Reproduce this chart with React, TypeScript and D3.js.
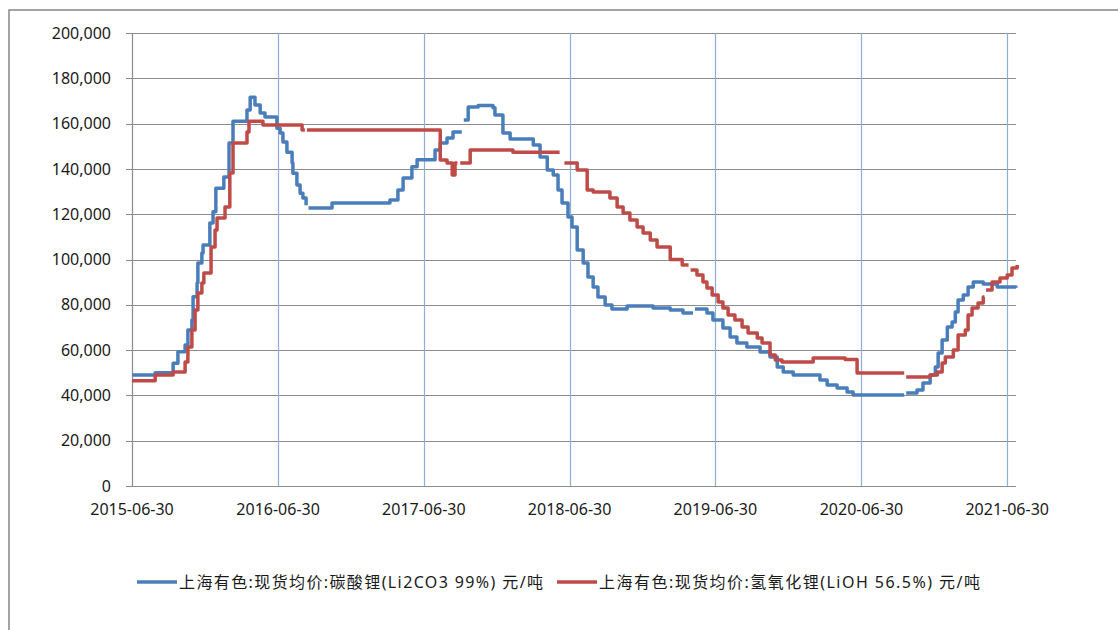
import React from "react";
import * as d3 from "d3";

// 上海有色 现货均价 碳酸锂 / 氢氧化锂, 元/吨
const li2co3Dates = [
  "2015-06-30", "2015-08-27", "2015-10-11", "2015-10-23", "2015-11-10", "2015-11-17", "2015-11-27",
  "2015-11-30", "2015-12-10", "2015-12-12", "2015-12-22", "2015-12-25", "2016-01-11", "2016-01-19",
  "2016-01-26", "2016-02-15", "2016-02-28", "2016-03-09", "2016-04-13", "2016-04-21", "2016-05-03",
  "2016-05-16", "2016-05-28", "2016-06-27", "2016-07-05", "2016-07-12", "2016-07-22", "2016-08-04",
  "2016-08-06", "2016-08-16", "2016-08-24", "2016-08-31", "2016-09-08", "2016-09-11", "2016-09-14",
  "2016-11-12", "2017-04-06", "2017-04-26", "2017-05-09", "2017-05-31", "2017-06-13", "2017-07-28",
  "2017-08-10", "2017-08-27", "2017-09-11", "2017-10-03", "2017-10-05", "2017-10-08", "2017-10-19",
  "2017-11-13", "2017-12-20", "2017-12-25", "2018-01-14", "2018-02-01", "2018-03-31", "2018-04-17",
  "2018-05-05", "2018-05-20", "2018-06-01", "2018-06-11", "2018-06-26", "2018-07-06", "2018-07-19",
  "2018-08-03", "2018-08-15", "2018-08-28", "2018-09-09", "2018-09-27", "2018-10-14", "2018-11-21",
  "2019-01-25", "2019-03-09", "2019-04-10", "2019-05-05", "2019-05-07", "2019-05-10", "2019-06-09",
  "2019-06-24", "2019-07-19", "2019-08-06", "2019-08-23", "2019-09-17", "2019-10-20", "2019-11-14",
  "2019-12-02", "2019-12-17", "2020-01-11", "2020-03-18", "2020-04-05", "2020-04-30", "2020-05-25",
  "2020-06-09", "2020-07-04", "2020-10-15", "2020-10-17", "2020-10-20", "2020-11-16", "2020-12-01",
  "2020-12-19", "2021-01-01", "2021-01-08", "2021-01-18", "2021-01-31", "2021-02-12", "2021-02-20",
  "2021-02-27", "2021-03-12", "2021-03-24", "2021-04-06", "2021-05-01", "2021-06-05", "2021-07-22",
];
const li2co3Values = [
  49000, 50000, 54200, 59300, 62200, 68900, 73300,
  83600, 89600, 98400, 102900, 106400, 116100, 121100,
  131500, 136400, 151400, 161000, 166000, 171600, 168200,
  164700, 162900, 158000, 155800, 151900, 147400, 142600,
  138100, 132900, 129300, 127100, 124000, null, 122700,
  125000, 126300, 130700, 136000, 140900, 144000, 148300,
  151400, 153600, 156300, 156300, null, 161600, 167300,
  168000, 167000, 163800, 155800, 153200, 150600, 145300,
  139500, 137300, 130700, 125000, 118800, 114300, 104200,
  98400, 92300, 87900, 83400, 79900, 78100, 79500,
  78600, 77700, 76400, 76400, null, 78100, 76400,
  73300, 69800, 65800, 63100, 61400, 59200, 57000,
  52500, 50300, 49000, 46800, 44600, 43300, 41500,
  40200, 40200, 40200, null, 41100, 42400, 45500,
  49000, 52500, 58700, 64500, 70200, 72400, 76800,
  82100, 84300, 87900, 90100, 89200, 87900, 87500,
];

const liohDates = [
  "2015-06-30", "2015-08-27", "2015-10-11", "2015-11-10", "2015-11-17", "2015-11-27", "2015-12-05",
  "2015-12-12", "2015-12-22", "2015-12-27", "2016-01-14", "2016-01-24", "2016-01-29", "2016-02-18",
  "2016-03-01", "2016-03-09", "2016-04-13", "2016-04-18", "2016-05-23", "2016-08-29", "2016-09-05",
  "2016-09-07", "2016-09-10", "2017-08-02", "2017-08-10", "2017-08-27", "2017-09-09", "2017-09-16",
  "2017-09-22", "2017-09-25", "2017-09-29", "2017-10-24", "2018-02-08", "2018-06-05", "2018-06-08",
  "2018-06-17", "2018-07-19", "2018-08-13", "2018-08-28", "2018-10-09", "2018-10-27", "2018-11-11",
  "2018-11-28", "2018-12-16", "2018-12-31", "2019-01-18", "2019-02-04", "2019-03-09", "2019-04-08",
  "2019-04-24", "2019-04-26", "2019-04-29", "2019-05-15", "2019-05-30", "2019-06-09", "2019-06-22",
  "2019-07-07", "2019-07-19", "2019-08-01", "2019-08-18", "2019-09-05", "2019-09-20", "2019-10-13",
  "2019-10-25", "2019-11-14", "2019-11-27", "2019-12-14", "2020-03-01", "2020-05-20", "2020-06-19",
  "2020-10-15", "2020-10-17", "2020-10-20", "2020-12-19", "2021-01-06", "2021-01-18", "2021-01-26",
  "2021-02-15", "2021-02-27", "2021-03-17", "2021-03-24", "2021-04-03", "2021-04-18", "2021-05-01",
  "2021-05-04", "2021-05-06", "2021-05-08", "2021-05-23", "2021-06-12", "2021-06-30", "2021-07-12",
  "2021-07-25",
];
const liohValues = [
  46500, 49000, 50300, 54700, 61400, 68900, 77700,
  85200, 89600, 94000, 105500, 113000, 118300, 123200,
  138200, 151400, 156300, 161000, 159400, 157200, 157200,
  null, 157200, 157200, 143900, 142600, 137300, 142600,
  142600, null, 142600, 148300, 147400, 147400, null,
  142600, 139500, 130700, 129800, 127100, 123200, 120500,
  117400, 114300, 111700, 108600, 105500, 100000, 97600,
  97600, null, 95400, 93200, 90100, 87400, 84300,
  81200, 78600, 75500, 73300, 70200, 67500, 65300,
  63100, 57800, 55600, 54700, 56500, 55800, 49900,
  49900, null, 48100, 49000, 50300, 54300, 57000,
  60000, 66700, 68900, 75500, 78600, 80800, 83400,
  83400, null, 86500, 90100, 91800, 93200, 96200,
  97600,
];

const yTicks = [0, 20000, 40000, 60000, 80000, 100000, 120000, 140000, 160000, 180000, 200000];
const xTickLabels = ["2015-06-30", "2016-06-30", "2017-06-30", "2018-06-30", "2019-06-30", "2020-06-30", "2021-06-30"];
const seriesNames = [
  "上海有色:现货均价:碳酸锂(Li2CO3 99%) 元/吨",
  "上海有色:现货均价:氢氧化锂(LiOH 56.5%) 元/吨",
];
const seriesColors = ["#4a7ebb", "#be4b48"];

const parse = d3.timeParse("%Y-%m-%d");

export default function App() {
  const W = 1118, H = 630;
  const left = 132, right = 1016, top = 33, bottom = 486;

  const x = d3.scaleTime()
    .domain([parse("2015-06-30")!, parse("2021-07-22")!])
    .range([left, right]);
  const y = d3.scaleLinear().domain([0, 200000]).range([bottom, top]);

  const toPoints = (dates: string[], vals: (number | null)[]) =>
    dates.map((d, i) => ({ date: parse(d)!, v: vals[i] }));

  const line = d3.line<{ date: Date; v: number | null }>()
    .defined(d => d.v !== null)
    .x(d => x(d.date))
    .y(d => y(d.v as number))
    .curve(d3.curveStepAfter);

  const series = [
    toPoints(li2co3Dates, li2co3Values),
    toPoints(liohDates, liohValues),
  ];

  const fmt = d3.format(",");
  const tickFont = "'Noto Sans', sans-serif";
  // legend line start x and text widths
  const legendX = [137, 557];
  const legendW = [364, 381];

  return (
    <svg width={W} height={H} style={{ position: "absolute", left: 0, top: 0, background: "#fff" }}>
      {/* outer frame */}
      <rect x={9} y={10} width={1300} height={800} fill="#fff" stroke="#868686" strokeWidth={1.5} />

      {/* horizontal grid */}
      {yTicks.map(t => (
        <line key={t} x1={left - 6} x2={right} y1={Math.round(y(t)) + 0.5} y2={Math.round(y(t)) + 0.5}
          stroke="#8c8c8c" strokeWidth={1} />
      ))}
      {/* vertical year lines */}
      {xTickLabels.map(l => {
        const xx = Math.round(x(parse(l)!)) + 0.5;
        return <line key={l} x1={xx} x2={xx} y1={top} y2={bottom} stroke={l === xTickLabels[0] ? "#8c8c8c" : "#8eaed8"} strokeWidth={1.2} />;
      })}

      {/* y labels */}
      {yTicks.map(t => (
        <text key={t} x={111} y={y(t)} dy="0.35em" textAnchor="end" fontFamily={tickFont} fontSize={16}
          fill="#1a1a1a">{fmt(t)}</text>
      ))}
      {/* x labels */}
      {xTickLabels.map(l => (
        <text key={l} x={x(parse(l)!)} y={509} dy="0.35em" textAnchor="middle" fontFamily={tickFont} fontSize={16}
          fill="#1a1a1a">{l}</text>
      ))}

      {series.map((s, i) => (
        <path key={i} d={line(s) || ""} fill="none" stroke={seriesColors[i]} strokeWidth={3.5}
          strokeLinejoin="round" />
      ))}

      {/* legend */}
      {legendX.map((lx, i) => (
        <g key={i}>
          <line x1={lx} x2={lx + 40} y1={582} y2={582} stroke={seriesColors[i]} strokeWidth={3.5} />
          <text x={lx + 42} y={582} dy="0.35em" fontFamily="'Noto Sans', 'Noto Sans CJK SC', sans-serif"
            fontSize={16} textLength={legendW[i]} lengthAdjust="spacing" fill="#1a1a1a">{seriesNames[i]}</text>
        </g>
      ))}
    </svg>
  );
}
